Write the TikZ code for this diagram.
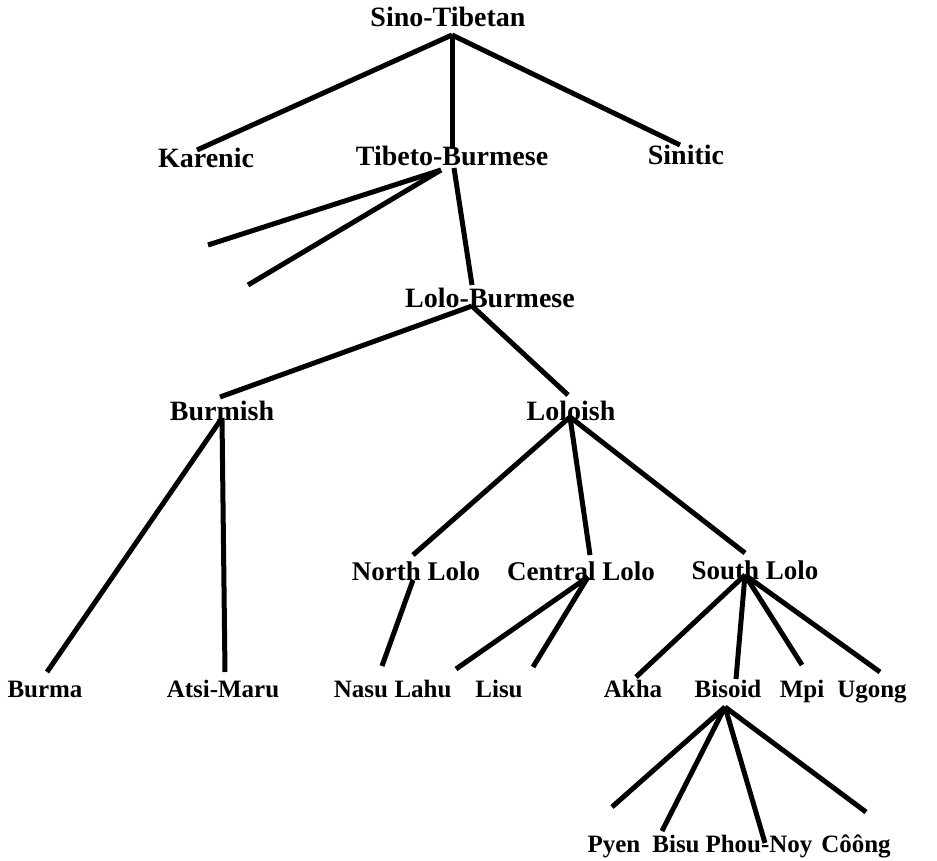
\documentclass[tikz,border=0pt]{standalone}
\usepackage{fontspec}
\setmainfont{Liberation Serif}
\usetikzlibrary{calc}
\tikzset{
  lbl/.style={inner sep=0pt, anchor=base, font=\bfseries\fontsize{28}{28}\selectfont},
  midlbl/.style={lbl, font=\bfseries\fontsize{27}{27}\selectfont},
  leaf/.style={lbl, font=\bfseries\fontsize{25}{25}\selectfont},
  br/.style={line width=5pt, black}
}
\begin{document}
\begin{tikzpicture}[x=1pt,y=-1pt]
\useasboundingbox[fill=white] (0,0) rectangle (937,861);
% nodes
\node[lbl] (st) at (448,27) {Sino-Tibetan};
\node[lbl] (ka) at (206,168) {Karenic};
\node[lbl] (tb) at (452,166) {Tibeto-Burmese};
\node[lbl] (si) at (686,165) {Sinitic};
\node[lbl] (lb) at (490,307) {Lolo-Burmese};
\node[lbl] (bu) at (222,420) {Burmish};
\node[lbl] (lo) at (571,420) {Loloish};
\node[midlbl] (nl) at (416,580) {North Lolo};
\node[midlbl] (cl) at (581,580) {Central Lolo};
\node[midlbl] (sl) at (755,579) {South Lolo};
\node[leaf] (bm) at (45,697) {Burma};
\node[leaf] (am) at (223,697) {Atsi-Maru};
\node[leaf] (na) at (361,697) {Nasu};
\node[leaf] (la) at (423,697) {Lahu};
\node[leaf] (li) at (499,697) {Lisu};
\node[leaf] (ak) at (633,697) {Akha};
\node[leaf] (bi) at (728,697) {Bisoid};
\node[leaf] (mp) at (802,697) {Mpi};
\node[leaf] (ug) at (872,697) {Ugong};
\node[leaf] (py) at (614,852) {Pyen};
\node[leaf] (bs) at (676,852) {Bisu};
\node[leaf] (pn) at (759,852) {Phou-Noy};
\node[leaf] (co) at (856,852) {Côông};
\coordinate (tbx1) at (208,245);
\coordinate (tbx2) at (248,285);
% connectors
\draw[br] ($(st.base)+(4,8)$) -- ($(ka.base)+(-9,-18)$);
\draw[br] ($(st.base)+(4,8)$) -- ($(tb.base)+(0,-17)$);
\draw[br] ($(st.base)+(4,8)$) -- ($(si.base)+(-6,-20)$);
\draw[br] ($(tb.base)+(-11,4)$) -- (tbx1);
\draw[br] ($(tb.base)+(-11,4)$) -- (tbx2);
\draw[br] ($(tb.base)+(2,2)$) -- ($(lb.base)+(-18,-22)$);
\draw[br] ($(lb.base)+(-18,-1)$) -- ($(bu.base)+(-2,-23)$);
\draw[br] ($(lb.base)+(-18,-1)$) -- ($(lo.base)+(-3,-25)$);
\draw[br] ($(bu.base)+(0,-2)$) -- ($(bm.base)+(2,-25)$);
\draw[br] ($(bu.base)+(0,-2)$) -- ($(am.base)+(2,-25)$);
\draw[br] ($(lo.base)+(-1,-3)$) -- ($(nl.base)+(-3,-25)$);
\draw[br] ($(lo.base)+(-1,-3)$) -- ($(cl.base)+(9,-25)$);
\draw[br] ($(lo.base)+(-1,-3)$) -- ($(sl.base)+(-10,-26)$);
\draw[br] ($(nl.base)+(-3,0)$) -- ($(na.base)+(21,-31)$);
\draw[br] ($(cl.base)+(7,-3)$) -- ($(la.base)+(33,-28)$);
\draw[br] ($(cl.base)+(7,-3)$) -- ($(li.base)+(34,-30)$);
\draw[br] ($(sl.base)+(-10,-4)$) -- ($(ak.base)+(3,-20)$);
\draw[br] ($(sl.base)+(-10,-4)$) -- ($(bi.base)+(8,-18)$);
\draw[br] ($(sl.base)+(-10,-4)$) -- ($(mp.base)+(0,-32)$);
\draw[br] ($(sl.base)+(-10,-4)$) -- ($(ug.base)+(8,-25)$);
\draw[br] ($(bi.base)+(-3,10)$) -- ($(py.base)+(-2,-45)$);
\draw[br] ($(bi.base)+(-3,10)$) -- ($(bs.base)+(-14,-21)$);
\draw[br] ($(bi.base)+(-3,10)$) -- ($(pn.base)+(6,-9)$);
\draw[br] ($(bi.base)+(-3,10)$) -- ($(co.base)+(10,-40)$);
\end{tikzpicture}
\end{document}
